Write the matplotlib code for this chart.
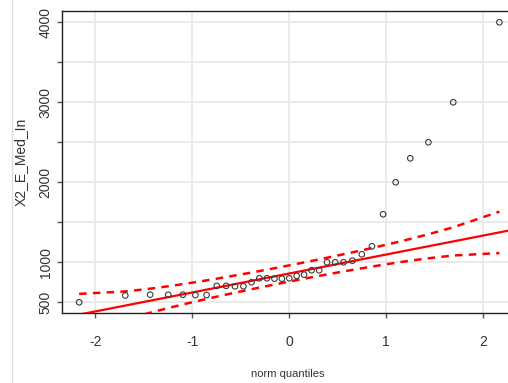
import matplotlib
matplotlib.use("Agg")
import matplotlib.pyplot as plt
import numpy as np
from statistics import NormalDist
from matplotlib.lines import Line2D

# Sorted sample values
values = [500, 585, 595, 595, 595, 590, 590, 705, 705, 700, 700, 750,
          800, 800, 795, 795, 800, 830, 845, 900, 900, 1000, 1000, 1000,
          1020, 1100, 1200, 1600, 2000, 2300, 2500, 3000, 4000]
xticks = [-2, -1, 0, 1, 2]
yticks = [500, 1000, 1500, 2000, 2500, 3000, 3500, 4000]
ytick_labels = ["500", "1000", "", "2000", "", "3000", "", "4000"]
ylabel = "X2_E_Med_In"
xlabel = "norm quantiles"

y = np.array(values, dtype=float)
n = len(y)
nd = NormalDist()
P = (np.arange(1, n + 1) - 0.5) / n
z = np.array([nd.inv_cdf(p) for p in P])

# reference line through quartiles (as car::qqPlot)
q1, q3 = np.percentile(y, [25, 75])
zq1, zq3 = nd.inv_cdf(0.25), nd.inv_cdf(0.75)
b = (q3 - q1) / (zq3 - zq1)
a = q1 - b * zq1
dens = np.array([nd.pdf(v) for v in z])
se = (b / dens) * np.sqrt(P * (1 - P) / n)
fit = a + b * z
crit = nd.inv_cdf(0.975)
upper = fit + crit * se
lower = fit - crit * se

plt.rcParams['font.family'] = ['Liberation Sans', 'DejaVu Sans']
fig = plt.figure(figsize=(5.08, 3.83), dpi=100)
ax = fig.add_axes([62 / 508, 1 - 313 / 383, 1 - 62 / 508, (313 - 11) / 383])
ax.set_xlim(-2.343, 2.255)
ax.set_ylim(366, 4141)

ax.set_xticks(xticks)
ax.set_xticklabels([str(t) for t in xticks])
ax.set_yticks(yticks)
ax.set_yticklabels(ytick_labels, rotation=90, va='center')
ax.grid(True, color='#e6e6e6', lw=1.2)
ax.set_axisbelow(True)
ax.tick_params(axis='both', direction='out', length=3.8, width=1, color='#555555',
               labelsize=10, labelcolor='#333333')
ax.tick_params(axis='x', pad=12)
ax.tick_params(axis='y', pad=3)
for s in ['left', 'top', 'bottom']:
    ax.spines[s].set_color('#222222')
    ax.spines[s].set_linewidth(1)
ax.spines['right'].set_visible(False)

xs = np.array(ax.get_xlim())
ax.plot(xs, a + b * xs, color='#ff0000', lw=1.6, zorder=3)
ax.plot(z, upper, color='#ff0000', lw=1.8, ls=(0, (3, 2.5)), zorder=3)
ax.plot(z, lower, color='#ff0000', lw=1.8, ls=(0, (3, 2.5)), zorder=3)
ax.scatter(z, y, s=16, facecolors='none', edgecolors='#3a3a3a', linewidths=0.8, zorder=4)

ax.set_ylabel(ylabel, fontsize=10, color='#333333', labelpad=8)
fig.text(287.5 / 508, 1 - 374 / 383, xlabel, fontsize=8, color='#333333',
         ha='center', va='center')

fig.add_artist(Line2D([12 / 508, 12 / 508], [0, 1], color='#dddddd', lw=1))

fig.savefig("out.png", dpi=100)
